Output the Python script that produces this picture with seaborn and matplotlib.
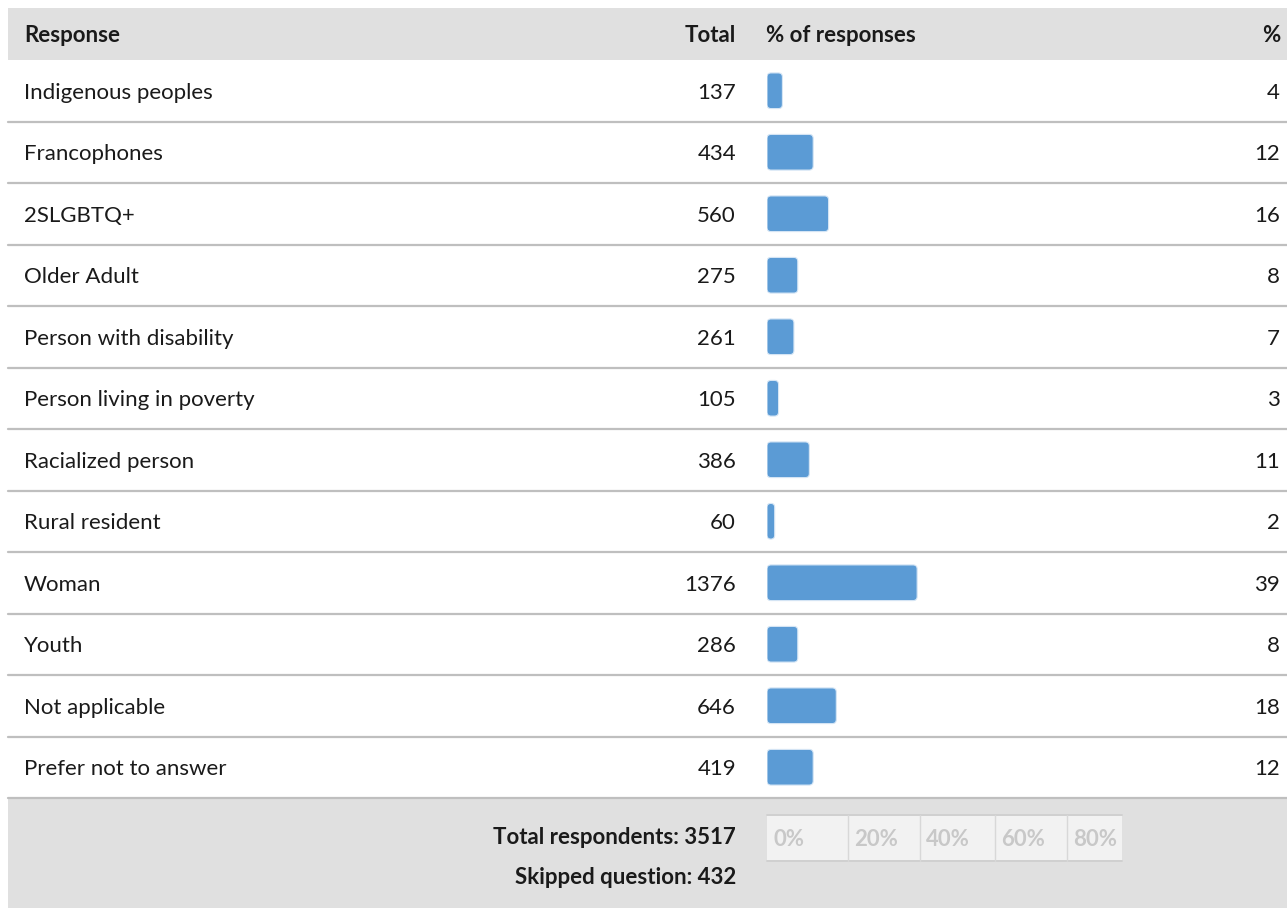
import matplotlib
matplotlib.use("Agg")
import matplotlib.pyplot as plt
import matplotlib.transforms as mtrans
from matplotlib.patches import Rectangle, FancyBboxPatch
import seaborn as sns
import pandas as pd

responses = ["Indigenous peoples", "Francophones", "2SLGBTQ+", "Older Adult",
             "Person with disability", "Person living in poverty", "Racialized person",
             "Rural resident", "Woman", "Youth", "Not applicable", "Prefer not to answer"]
totals = [137, 434, 560, 275, 261, 105, 386, 60, 1376, 286, 646, 419]
percents = [4, 12, 16, 8, 7, 3, 11, 2, 39, 8, 18, 12]
scale_ticks = ["0%", "20%", "40%", "60%", "80%"]
total_respondents = 3517
skipped = 432

sns.set_theme(style="white")
plt.rcParams["font.family"] = ["Lato", "DejaVu Sans"]

W, H = 1287, 908
fig = plt.figure(figsize=(W / 100, H / 100), dpi=100)
fig.patch.set_facecolor("white")

bg = fig.add_axes([0, 0, 1, 1])
bg.set_xlim(0, W)
bg.set_ylim(H, 0)
bg.axis("off")

GRAY = "#e0e0e0"
LINE = "#bfbfbf"
TXT = "#1a1a1a"
FS = 16

# header band & footer band
bg.add_patch(Rectangle((8, 8), W - 8, 52, color=GRAY, lw=0, zorder=0))
bg.add_patch(Rectangle((8, 798), W - 8, H - 798, color=GRAY, lw=0, zorder=0))

top, bot = 60, 798
n = len(responses)
row_h = (bot - top) / n

# bar axes
x0_px, px_per_unit = 767, 3.85
ax = fig.add_axes([x0_px / W, (H - bot) / H, 100 * px_per_unit / W, (bot - top) / H])
df = pd.DataFrame({"Response": responses, "Percent": percents})
sns.barplot(data=df, x="Percent", y="Response", orient="h", color="#5b9bd5",
            width=0.58, ax=ax, saturation=1)
ax.set_xlim(0, 100)
ax.set_ylim(n - 0.5, -0.5)
ax.axis("off")
ax.patch.set_alpha(0)

# replace bars with rounded versions
aspect = px_per_unit / row_h
for p in list(ax.patches):
    x, y, w, h = p.get_x(), p.get_y(), p.get_width(), p.get_height()
    r = min(1.05, w / 2)
    fb = FancyBboxPatch((x, y), w, h, boxstyle=f"round,pad=0,rounding_size={r}",
                        mutation_aspect=aspect, facecolor="#5b9bd5",
                        edgecolor="#d6e6f5", lw=0.8, zorder=3)
    p.remove()
    ax.add_patch(fb)

tr = mtrans.blended_transform_factory(bg.transData, ax.transData)
dy = 0.035  # text baseline nudge (row units)

# header text
bg.text(24, 35, "Response", ha="left", va="center", fontsize=FS, fontweight="bold", color=TXT)
bg.text(736, 35, "Total", ha="right", va="center", fontsize=FS, fontweight="bold", color=TXT)
bg.text(766, 35, "% of responses", ha="left", va="center", fontsize=FS, fontweight="bold", color=TXT)
bg.text(1280, 35, "%", ha="right", va="center", fontsize=FS, fontweight="bold", color=TXT)

for i, (r, t, pc) in enumerate(zip(responses, totals, percents)):
    bg.text(24, i + dy, r, transform=tr, ha="left", va="center", fontsize=FS, color=TXT)
    bg.text(736, i + dy, str(t), transform=tr, ha="right", va="center", fontsize=FS, color=TXT)
    bg.text(1280, i + dy, str(pc), transform=tr, ha="right", va="center", fontsize=FS, color=TXT)
    # separator line below row
    bg.plot([8, W], [i + 0.5, i + 0.5], transform=tr, color=LINE, lw=1.6, zorder=1)

# footer summary
bg.text(736, 838, f"Total respondents: {total_respondents}", ha="right", va="center",
        fontsize=FS, fontweight="bold", color=TXT)
bg.text(736, 877, f"Skipped question: {skipped}", ha="right", va="center",
        fontsize=FS, fontweight="bold", color=TXT)

# footer scale box
edges = [767, 848, 920, 995, 1067, 1122]
bg.add_patch(Rectangle((767, 815), 1122 - 767, 46, facecolor="#f2f2f2", lw=0, zorder=1))
bg.plot([767, 1122], [815, 815], color="#d0d0d0", lw=1.4, zorder=2)
bg.plot([767, 1122], [861, 861], color="#d0d0d0", lw=1.4, zorder=2)
for e in edges[1:-1]:
    bg.plot([e, e], [815, 861], color="#d8d8d8", lw=1.0, zorder=2)
for e, lab in zip(edges[:-1], scale_ticks):
    bg.text(e + 6, 839, lab, ha="left", va="center", fontsize=FS, fontweight="bold",
            color="#c8c8c8")

fig.savefig("out.png", dpi=100)
